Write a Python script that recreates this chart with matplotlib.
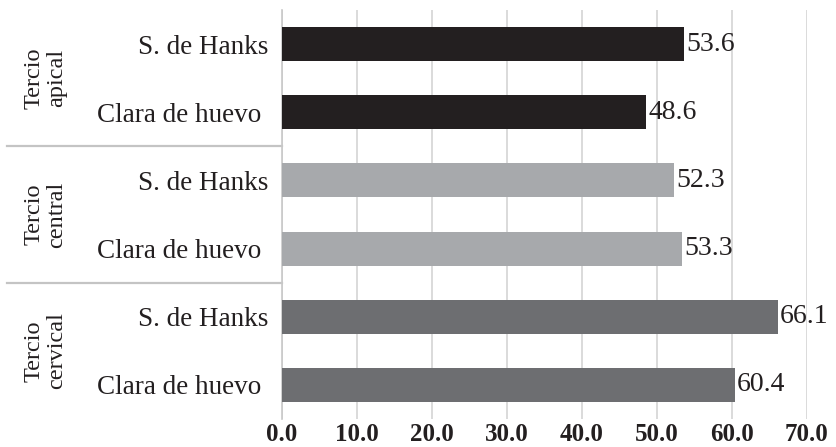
import numpy as np
import matplotlib
matplotlib.use("Agg")
import matplotlib.pyplot as plt

plt.rcParams['font.family'] = ['Liberation Serif', 'DejaVu Serif']

grupos = ["Tercio\napical", "Tercio\ncentral", "Tercio\ncervical"]
soluciones = ["S. de Hanks", "Clara de huevo "]
valores = [[53.6, 48.6], [52.3, 53.3], [66.1, 60.4]]
colores = ["#231f20", "#a7a9ac", "#6d6e71"]
xticks = [0, 10, 20, 30, 40, 50, 60, 70]

fig = plt.figure(figsize=(8.36, 4.47), dpi=100)
ax = fig.add_axes([0.3373, 0.0626, 0.628, 0.915])

etiquetas = []
vals = []
cols = []
for g, c in zip(valores, colores):
    for s, v in zip(soluciones, g):
        etiquetas.append(s)
        vals.append(v)
        cols.append(c)

y = np.arange(len(vals))
barras = ax.barh(y, vals, height=0.5, color=cols, zorder=3)
for b, v in zip(barras, vals):
    ax.text(b.get_width() + 0.3, b.get_y() + b.get_height() / 2, f"{v:.1f}",
            va="center", ha="left", fontsize=20, color="#231f20", zorder=4)

ax.set_ylim(len(vals) - 0.5, -0.5)
ax.set_xlim(0, 70)
ax.set_xticks(xticks)
ax.set_xticklabels([f"{t:.1f}" for t in xticks], fontsize=18, fontweight="bold",
                   color="#231f20")
ax.set_yticks(y)
ax.set_yticklabels(etiquetas, fontsize=19.5, color="#231f20")
ax.tick_params(axis="y", length=0, pad=10)
ax.tick_params(axis="x", length=0, pad=3)

ax.grid(axis="x", color="#d4d4d4", linewidth=1.2, zorder=0)
for lado in ["top", "right", "bottom"]:
    ax.spines[lado].set_visible(False)
ax.spines["left"].set_color("#c8c8c8")
ax.spines["left"].set_linewidth(1.2)

# separadores y rótulos de cada grupo
n = len(soluciones)
for i, g in enumerate(grupos):
    centro = i * n + (n - 1) / 2
    ax.text(-0.45, centro, g, transform=ax.get_yaxis_transform(), rotation=90,
            ha="center", va="center", fontsize=17.5, color="#231f20",
            linespacing=1.1)
    if i > 0:
        ax.plot([-0.524, 0], [i * n - 0.5, i * n - 0.5], transform=ax.get_yaxis_transform(),
                color="#c4c4c4", linewidth=1.6, clip_on=False)

fig.savefig("out.png", dpi=100)
